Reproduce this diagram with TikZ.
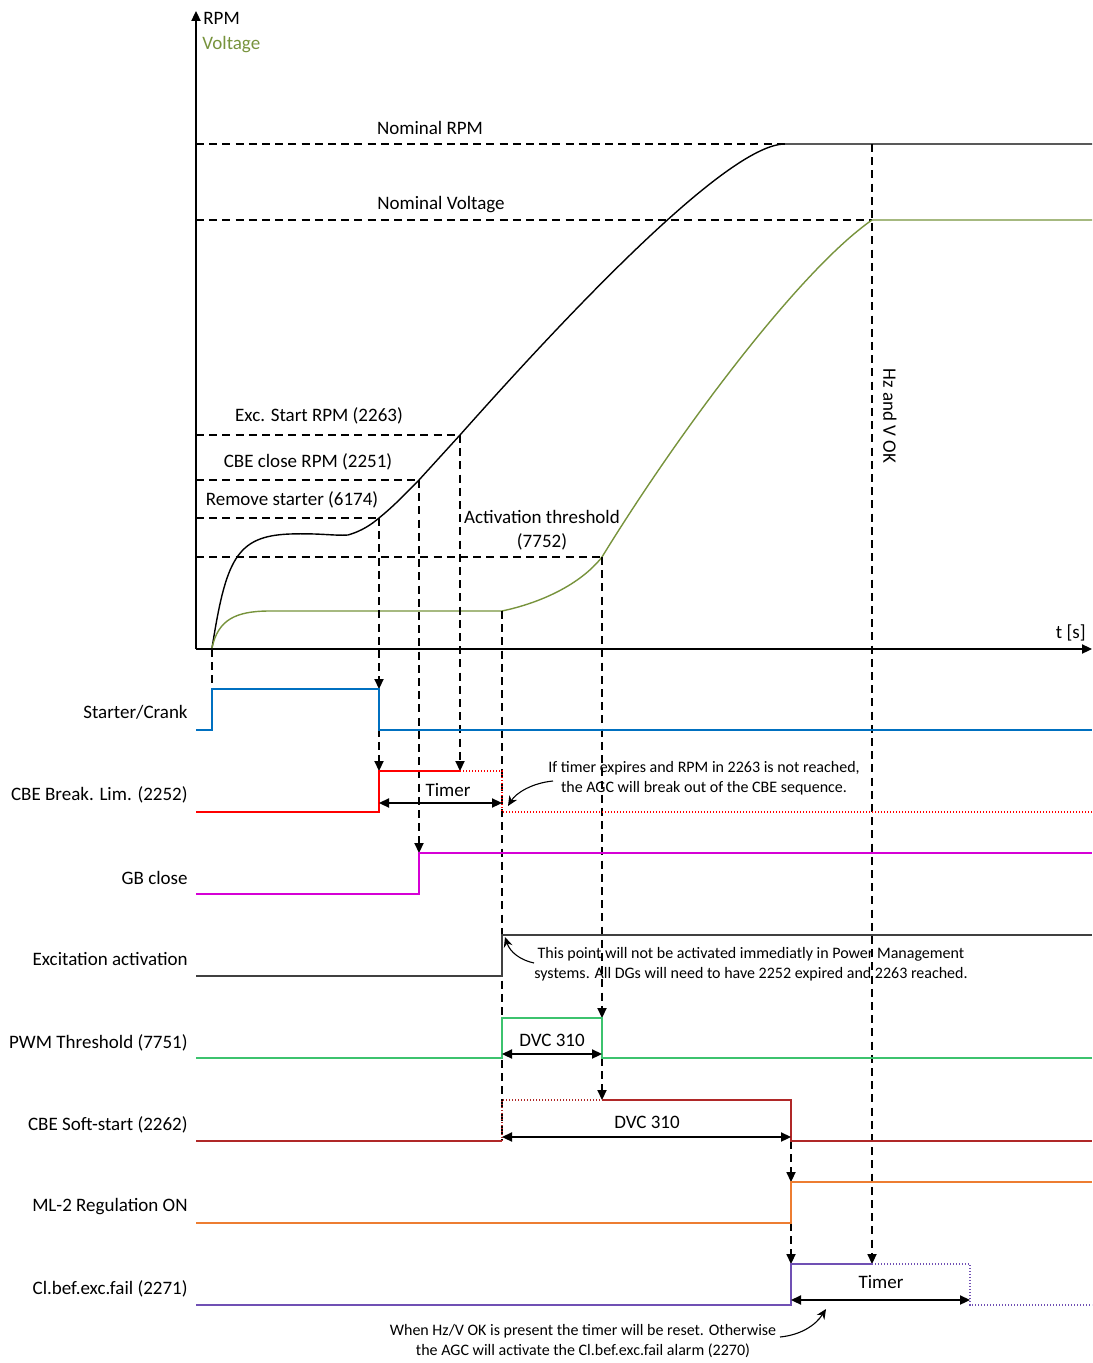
\documentclass[tikz,border=0pt]{standalone}
\usepackage{fontspec}
\setmainfont{Carlito}
\usetikzlibrary{arrows.meta}
\definecolor{vgreen}{RGB}{119,147,60}
\definecolor{sblue}{RGB}{0,112,192}
\definecolor{sred}{RGB}{255,0,0}
\definecolor{smag}{RGB}{214,0,214}
\definecolor{sgray}{RGB}{64,64,64}
\definecolor{sgreen}{RGB}{60,195,110}
\definecolor{sbrown}{RGB}{176,40,40}
\definecolor{sorange}{RGB}{237,125,49}
\definecolor{spurple}{RGB}{112,80,180}
\tikzset{
 dsh/.style={dash pattern=on 4pt off 2.6pt, line width=0.6pt},
 ar/.style={-{Triangle[length=5pt,width=4.6pt]}},
 dbl/.style={{Triangle[length=5pt,width=4.6pt]}-{Triangle[length=5pt,width=4.6pt]}, line width=0.7pt},
 sig/.style={line width=0.6pt},
 dot/.style={line width=0.6pt, dash pattern=on 0.7pt off 0.8pt},
 lbl/.style={anchor=east, inner sep=0pt, font=\fontsize{9.5}{11}\selectfont},
 txt/.style={inner sep=0pt, font=\fontsize{9.5}{11}\selectfont},
 note/.style={inner sep=0pt, align=center, font=\fontsize{8}{9.8}\selectfont},
 curv/.style={-{Stealth[length=5pt,width=4.5pt]}, line width=0.55pt},
}
\begin{document}
\begin{tikzpicture}[x=0.5pt,y=-0.5pt]
\useasboundingbox (0,0) rectangle (1092,1363);
% axes
\coordinate (O) at (196,649);
\coordinate (Ytop) at (196,11);
\coordinate (Xend) at (1092,649);
\draw[line width=0.75pt, ar] (O) -- (Ytop);
\draw[line width=0.75pt, ar] (O) -- (Xend);
\node[txt, anchor=west] (rpm) at (203,18) {RPM};
\node[txt, anchor=west, text=vgreen] (volt) at (202,45) {Voltage};
\node[txt, anchor=east] (ts) at (1086,633) {t [s]};

% horizontal reference lines
\draw[dsh] (196,144) -- (785,144);
\node[txt] (nrpm) at (430,128) {Nominal RPM};
\draw[dsh] (196,220) -- (872,220);
\node[txt] (nvolt) at (441,205) {Nominal Voltage};
\draw[dsh] (196,435) -- (460,435);
\node[txt] (exc) at (319,416) {Exc. Start RPM (2263)};
\draw[dsh] (196,480) -- (419,480);
\node[txt] (cbe) at (308,462) {CBE close RPM (2251)};
\draw[dsh] (196,518) -- (379,518);
\node[txt] (rem) at (292,500) {Remove starter (6174)};
\draw[dsh] (196,557) -- (602,557);
\node[txt, align=center] (act) at (542,530) {Activation threshold\\[1pt](7752)};

% RPM curve
\draw[line width=0.7pt] (212,648) .. controls (226,560) and (236,536) .. (290,534)
  .. controls (320,533) and (335,536) .. (348,535)
  .. controls (362,531) and (372,524) .. (379,518)
  .. controls (395,505) and (405,494) .. (419,480)
  -- (460,435)
  .. controls (580,300) and (730,144) .. (785,144) -- (1092,144);
% Voltage curve
\draw[line width=0.7pt, vgreen] (212,648) .. controls (218,620) and (235,611) .. (270,611) -- (502,611)
  .. controls (540,603) and (580,585) .. (602,557)
  .. controls (680,430) and (800,270) .. (872,220) -- (1092,220);

% vertical dashed lines
\draw[dsh] (212,649) -- (212,689);
\draw[dsh, ar] (379,518) -- (379,689);
\draw[dsh, ar] (379,689) -- (379,771);
\draw[dsh, ar] (419,480) -- (419,853);
\draw[dsh, ar] (460,435) -- (460,771);
\draw[dsh] (502,611) -- (502,1141);
\draw[dsh, ar] (602,557) -- (602,1018);
\draw[dsh, ar] (602,1058) -- (602,1100);
\draw[dsh, ar] (791,1141) -- (791,1182);
\draw[dsh, ar] (791,1223) -- (791,1264);
\draw[dsh, ar] (872,144) -- (872,1264);
\node[txt, rotate=-90] (hzv) at (890,416) {Hz and V OK};

% signal labels
\node[lbl] (l1) at (188,712) {Starter/Crank};
\node[lbl] (l2) at (188,795) {CBE Break. Lim. (2252)};
\node[lbl] (l3) at (188,878) {GB close};
\node[lbl] (l4) at (188,959) {Excitation activation};
\node[lbl] (l5) at (188,1043) {PWM Threshold (7751)};
\node[lbl] (l6) at (188,1125) {CBE Soft-start (2262)};
\node[lbl] (l7) at (188,1207) {ML-2 Regulation ON};
\node[lbl] (l8) at (188,1289) {Cl.bef.exc.fail (2271)};

% signals
\draw[sig, sblue] (196,730) -- (212,730) -- (212,689) -- (379,689) -- (379,730) -- (1092,730);
\draw[sig, sred] (196,812) -- (379,812) -- (379,771) -- (460,771);
\draw[dot, sred] (460,771) -- (502,771) -- (502,812) -- (1092,812);
\draw[sig, smag] (196,894) -- (419,894) -- (419,853) -- (1092,853);
\draw[sig, sgray] (196,976) -- (502,976) -- (502,935) -- (1092,935);
\draw[sig, sgreen] (196,1058) -- (502,1058) -- (502,1018) -- (602,1018) -- (602,1058) -- (1092,1058);
\draw[sig, sbrown] (196,1141) -- (502,1141);
\draw[dot, sbrown] (502,1141) -- (502,1100) -- (602,1100);
\draw[sig, sbrown] (602,1100) -- (791,1100) -- (791,1141) -- (1092,1141);
\draw[sig, sorange] (196,1223) -- (791,1223) -- (791,1182) -- (1092,1182);
\draw[sig, spurple] (196,1305) -- (791,1305) -- (791,1264) -- (872,1264);
\draw[dot, spurple] (872,1264) -- (970,1264) -- (970,1305) -- (1092,1305);

% timer / duration arrows
\coordinate (t1a) at (379,803); \coordinate (t1b) at (502,803);
\draw[dbl] (t1a) -- (t1b);
\node[txt] (tim1) at (448,790) {Timer};
\coordinate (d1a) at (502,1054); \coordinate (d1b) at (602,1054);
\draw[dbl] (d1a) -- (d1b);
\node[txt] (dvc1) at (552,1040) {DVC 310};
\coordinate (d2a) at (502,1137); \coordinate (d2b) at (791,1137);
\draw[dbl] (d2a) -- (d2b);
\node[txt] (dvc2) at (647,1122) {DVC 310};
\coordinate (t2a) at (791,1300); \coordinate (t2b) at (970,1300);
\draw[dbl] (t2a) -- (t2b);
\node[txt] (tim2) at (881,1282) {Timer};

% annotations
\node[note] (n1) at (704,778) {If timer expires and RPM in 2263 is not reached,\\the AGC will break out of the CBE sequence.};
\coordinate (n1s) at (553,781);
\coordinate (n1e) at (508,806);
\draw[curv] (n1s) .. controls (532,783) and (516,793) .. (n1e);
\node[note] (n2) at (751,964) {This point will not be activated immediatly in Power Management\\systems. All DGs will need to have 2252 expired and 2263 reached.};
\coordinate (n2s) at (534,963);
\coordinate (n2e) at (505,937);
\draw[curv] (n2s) .. controls (520,960) and (510,952) .. (n2e);
\node[note] (n3) at (583,1341) {When Hz/V OK is present the timer will be reset. Otherwise\\the AGC will activate the Cl.bef.exc.fail alarm (2270)};
\coordinate (n3s) at (780,1337);
\coordinate (n3e) at (826,1309);
\draw[curv] (n3s) .. controls (800,1335) and (815,1326) .. (n3e);
\end{tikzpicture}
\end{document}
